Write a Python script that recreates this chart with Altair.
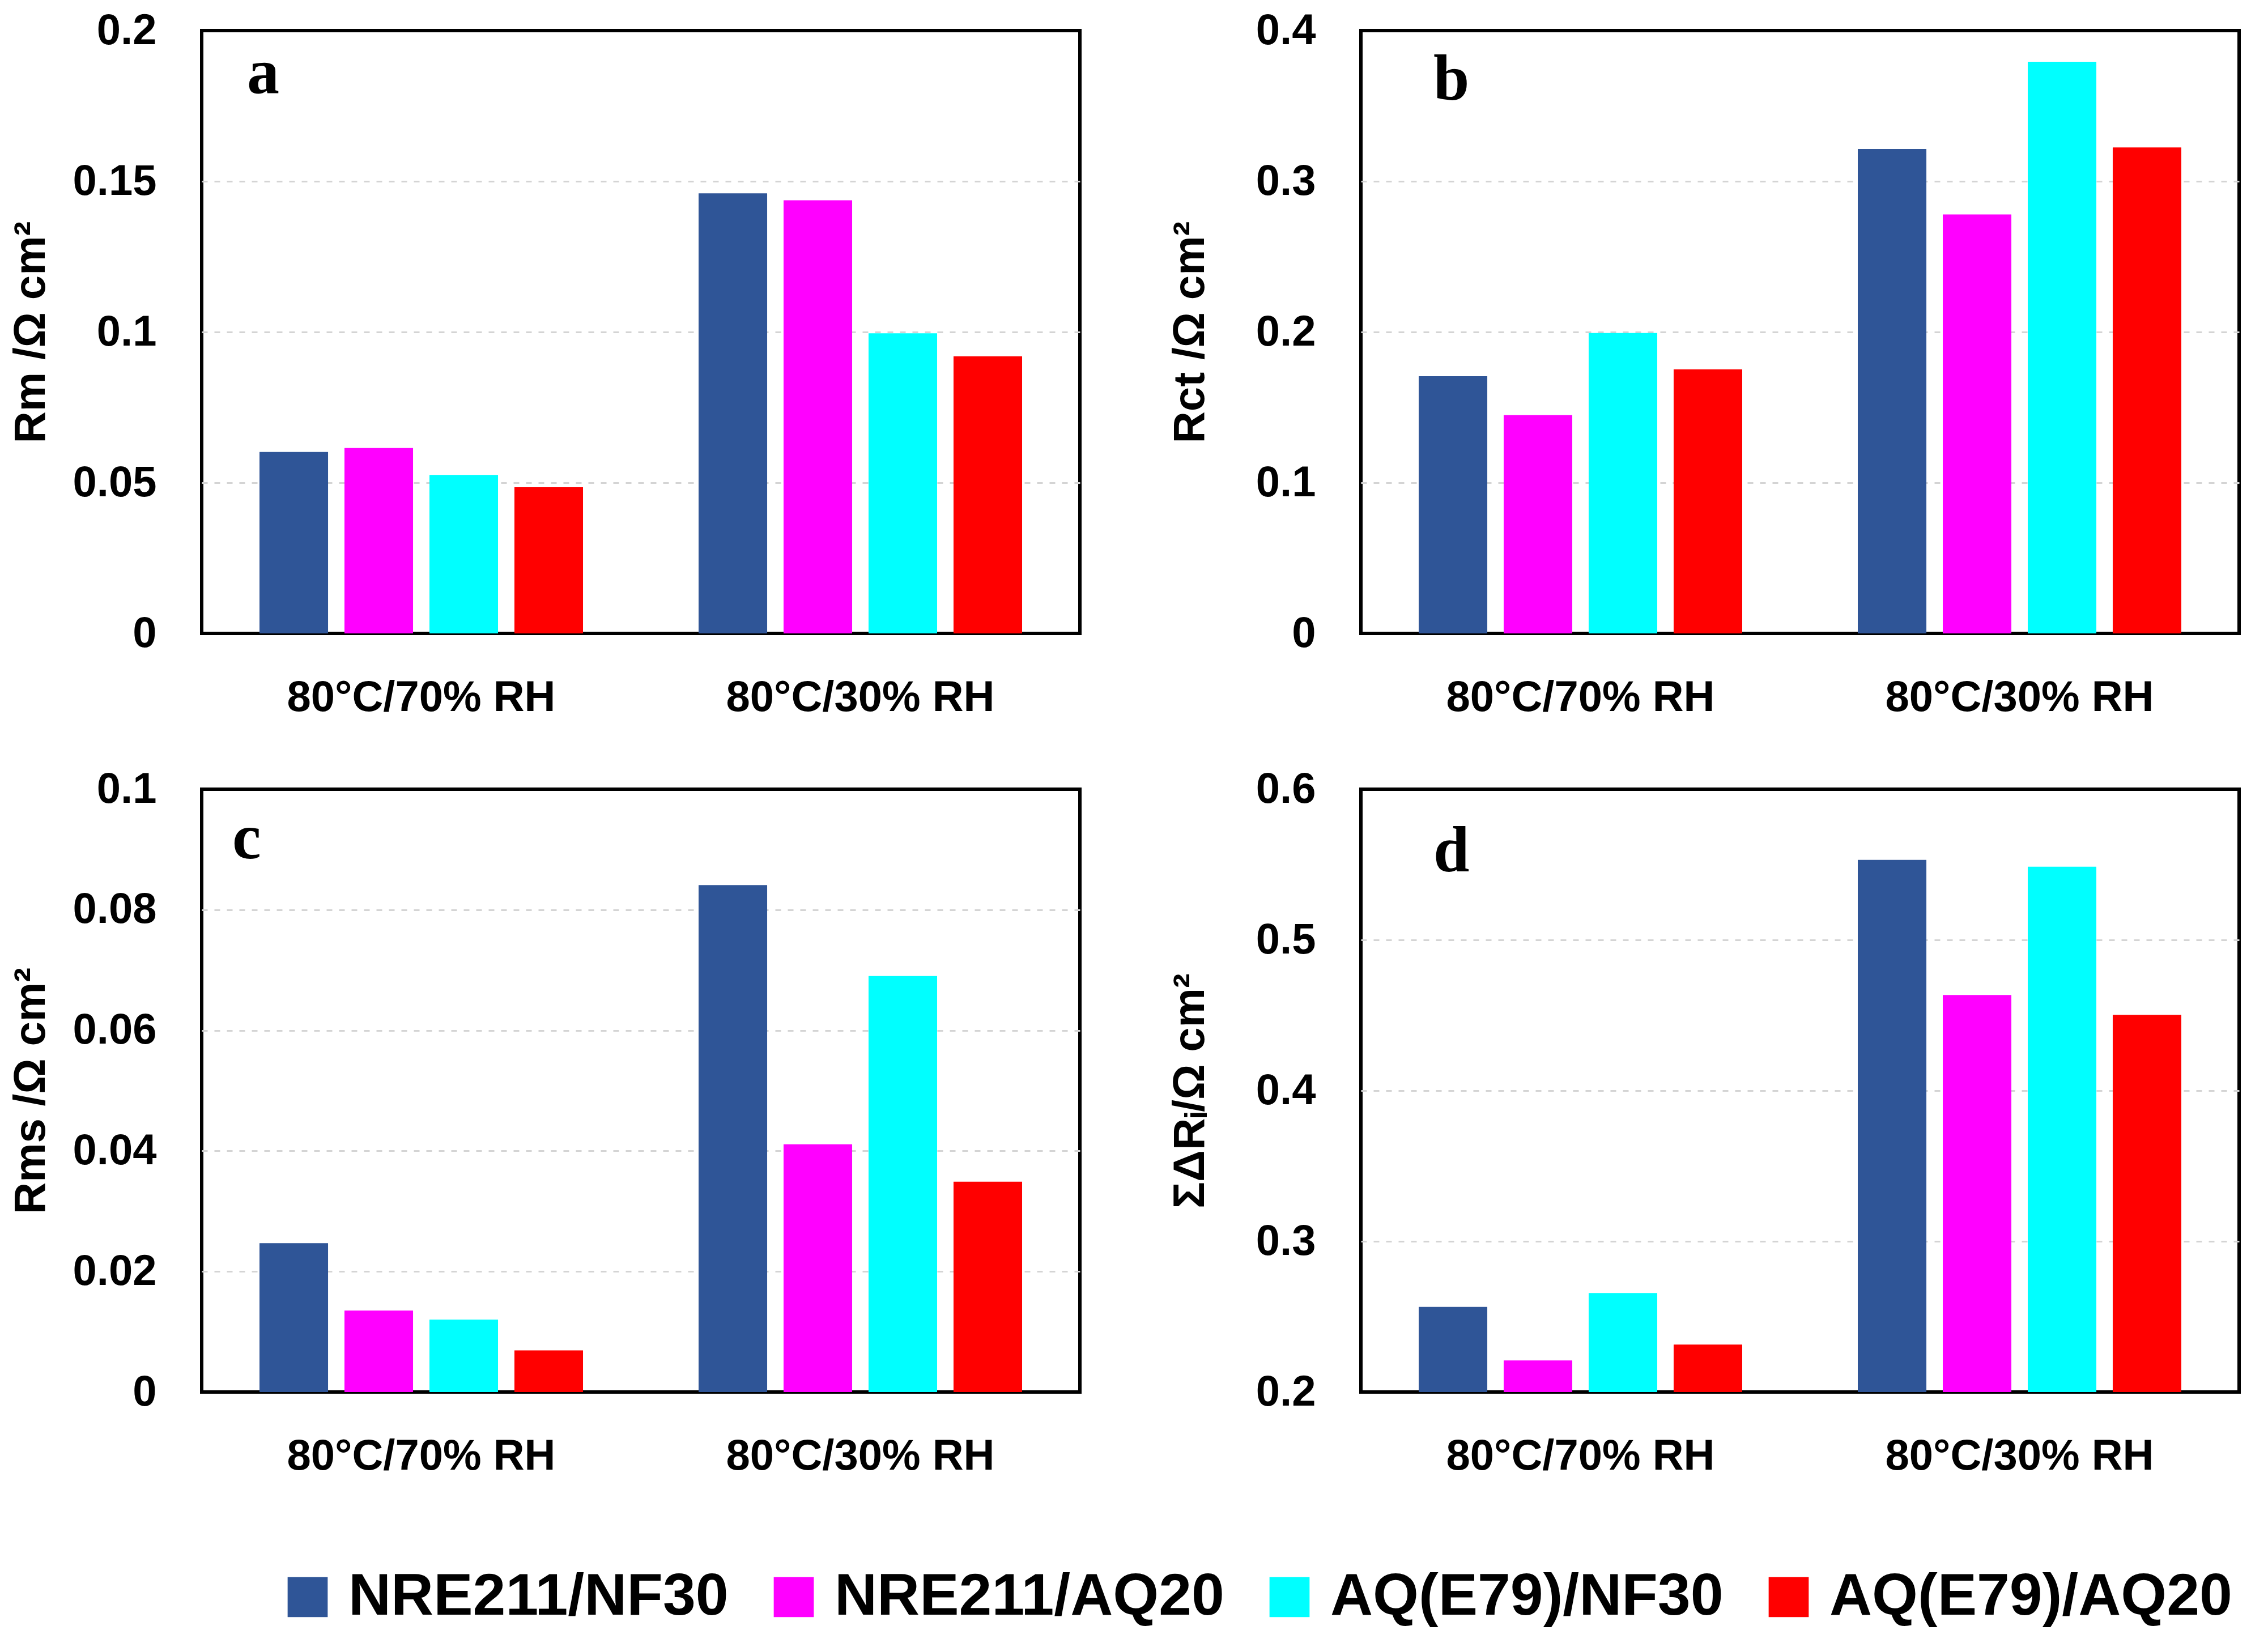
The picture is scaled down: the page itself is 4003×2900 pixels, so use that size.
import altair as alt
import pandas as pd

conditions = ["80°C/70% RH", "80°C/30% RH"]
series = ["NRE211/NF30", "NRE211/AQ20", "AQ(E79)/NF30", "AQ(E79)/AQ20"]
colors = ["#2F5597", "#FF00FF", "#00FFFF", "#FF0000"]

# panel a: Rm
rm_70 = [0.0602, 0.0615, 0.0526, 0.0485]
rm_30 = [0.1460, 0.1437, 0.0996, 0.0919]
# panel b: Rct
rct_70 = [0.1707, 0.1448, 0.1993, 0.1752]
rct_30 = [0.3214, 0.2780, 0.3793, 0.3225]
# panel c: Rms
rms_70 = [0.0247, 0.0135, 0.0120, 0.0069]
rms_30 = [0.0841, 0.0411, 0.0690, 0.0349]
# panel d: sum of delta R
sum_70 = [0.2565, 0.2210, 0.2657, 0.2315]
sum_30 = [0.5531, 0.4634, 0.5486, 0.4503]

W, H = 1550, 1064


def panel(v70, v30, title, domain, ticks, letter, lx, ly):
    df = pd.DataFrame({
        "condition": [conditions[0]] * 4 + [conditions[1]] * 4,
        "series": series * 2,
        "value": v70 + v30,
    })
    lo, hi = domain
    eps = (hi - lo) * 1e-3
    grid_op = {"condition": {"test": f"datum.value <= {lo + eps} || datum.value >= {hi - eps}",
                             "value": 0}, "value": 1}
    bars = alt.Chart(df).mark_bar(clip=True).encode(
        x=alt.X("condition:N", sort=conditions,
                scale=alt.Scale(paddingInner=0, paddingOuter=0),
                axis=alt.Axis(title=None, labelAngle=0, labelLimit=0)),
        xOffset=alt.XOffset("series:N", sort=series,
                            scale=alt.Scale(paddingInner=0.193, paddingOuter=0.68)),
        y=alt.Y("value:Q",
                scale=alt.Scale(domain=domain, nice=False, zero=False),
                axis=alt.Axis(title=title, values=ticks, format="~g", gridOpacity=grid_op)),
        color=alt.Color("series:N", sort=series,
                        scale=alt.Scale(domain=series, range=colors),
                        legend=alt.Legend(title=None, orient="none", legendX=135, legendY=2713,
                                          direction="horizontal")),
    )
    lab = alt.Chart(pd.DataFrame({"t": [letter]})).mark_text(
        font="Liberation Serif", fontWeight="bold", fontSize=114,
        align="left", baseline="alphabetic", color="black",
    ).encode(text="t:N", x=alt.value(lx), y=alt.value(ly))
    return alt.layer(bars, lab).properties(width=W, height=H)


a = panel(rm_70, rm_30, "Rm /Ω cm²", [0, 0.2], [0, 0.05, 0.1, 0.15, 0.2], "a", 80, 110)
b = panel(rct_70, rct_30, "Rct /Ω cm²", [0, 0.4], [0, 0.1, 0.2, 0.3, 0.4], "b", 128, 122)
c = panel(rms_70, rms_30, "Rms /Ω cm²", [0, 0.1], [0, 0.02, 0.04, 0.06, 0.08, 0.1], "c", 54, 122)
d = panel(sum_70, sum_30, "ΣΔRᵢ/Ω cm²", [0.2, 0.6], [0.2, 0.3, 0.4, 0.5, 0.6], "d", 128, 145)

row1 = alt.hconcat(a, b, spacing=150).resolve_scale(y="independent")
row2 = alt.hconcat(c, d, spacing=150).resolve_scale(y="independent")

chart = alt.vconcat(row1, row2, spacing=80).resolve_scale(y="independent").properties(
    padding={"left": 5, "top": 5, "right": 5, "bottom": 5}
).configure_view(
    stroke="black", strokeWidth=6
).configure_axis(
    labelFont="Liberation Sans", labelFontWeight="bold", labelFontSize=76, labelColor="black",
    titleFont="Liberation Sans", titleFontWeight="bold", titleFontSize=78, titleColor="black",
    domain=False, ticks=False, tickSize=0,
).configure_axisY(
    labelPadding=80, minExtent=232, maxExtent=232, titlePadding=30,
    grid=True, gridDash=[10, 12], gridColor="#d4d4d4", gridWidth=3,
).configure_axisX(
    labelPadding=76, grid=False,
).configure_legend(
    columnPadding=63, gridAlign="none", symbolType="square", symbolSize=5000, symbolStrokeWidth=0,
    symbolOpacity=1, labelOffset=20, labelFont="Liberation Sans", labelFontWeight="bold",
    labelFontSize=104, labelColor="black", labelLimit=0,
)

chart.save("out.html", embed_options={"renderer": "svg", "actions": False})
